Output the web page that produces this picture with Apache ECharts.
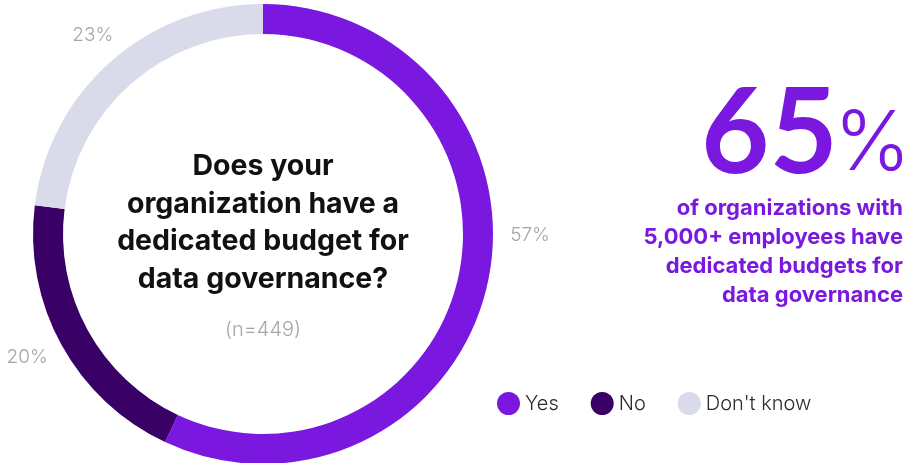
<!DOCTYPE html>
<html>
<head>
<meta charset="utf-8">
<script src="https://cdn.jsdelivr.net/npm/echarts@6/dist/echarts.min.js"></script>
<style>
  html, body { margin: 0; padding: 0; background: #ffffff; }
  #chart { width: 916px; height: 463px; }
</style>
</head>
<body>
<div id="chart"></div>
<script>
// Survey answers (share of respondents, %)
const categories = ['Yes', 'No', "Don't know"];
const shares = [57, 20, 23];
const sliceColors = ['#7A18E0', '#390066', '#D9DAEA'];

// Centre question and callout text
const questionLines = ['Does your', 'organization have a', 'dedicated budget for', 'data governance?'];
const sampleNote = '(n=449)';
const highlightValue = '65';
const highlightLines = ['of organizations with', '5,000+ employees have', 'dedicated budgets for', 'data governance'];

// Small nudges for the percentage labels around the ring
const labelNudges = [{ dx: 8, dy: -51 }, { dx: 0, dy: 8 }, { dx: 14, dy: -19 }];

const chart = echarts.init(document.getElementById('chart'), null, { renderer: 'canvas' });

const font = 'Inter, Lato, sans-serif';
const accent = '#7A18E0';

const option = {
  backgroundColor: '#ffffff',
  animation: false,
  legend: {
    data: categories,
    left: 492,
    top: 387,
    icon: 'circle',
    itemWidth: 23,
    itemHeight: 23,
    itemGap: 32,
    textStyle: { fontFamily: font, fontSize: 20, color: '#2b2b2b', fontWeight: 300, padding: [0, 0, 0, 0] }
  },
  series: [{
    type: 'pie',
    center: [263, 234],
    radius: [200, 230],
    startAngle: 90,
    clockwise: true,
    avoidLabelOverlap: false,
    silent: true,
    label: {
      show: true,
      position: 'outside',
      formatter: '{c}%',
      fontFamily: font,
      fontSize: 19,
      fontWeight: 300,
      color: '#a6a6a6'
    },
    labelLine: { show: false, length: 10, length2: 0 },
    labelLayout: function (p) {
      const n = labelNudges[p.dataIndex];
      return { dx: n.dx, dy: n.dy };
    },
    data: categories.map((name, i) => ({
      name: name,
      value: shares[i],
      itemStyle: { color: sliceColors[i] }
    }))
  }],
  graphic: [
    {
      type: 'text',
      style: {
        x: 263,
        y: 148,
        text: questionLines.join('\n'),
        fontFamily: font,
        fontSize: 28.5,
        fontWeight: 'bold',
        lineHeight: 37.5,
        fill: '#111111',
        align: 'center',
        verticalAlign: 'top'
      }
    },
    {
      type: 'text',
      style: {
        x: 263,
        y: 330,
        text: sampleNote,
        fontFamily: font,
        fontSize: 20,
        fontWeight: 300,
        fill: '#a6a6a6',
        align: 'center',
        verticalAlign: 'middle'
      }
    },
    {
      // big headline figure
      type: 'text',
      style: {
        x: 838,
        y: 135,
        text: highlightValue,
        fontFamily: 'Lato, Inter, sans-serif',
        fontSize: 118,
        fontWeight: 'bold',
        fill: accent,
        align: 'right',
        verticalAlign: 'middle'
      }
    },
    {
      type: 'text',
      style: {
        x: 834,
        y: 145,
        text: '%',
        fontFamily: font,
        fontSize: 82,
        fontWeight: 300,
        fill: accent,
        align: 'left',
        verticalAlign: 'middle'
      }
    },
    {
      type: 'text',
      style: {
        x: 903,
        y: 193.5,
        text: highlightLines.join('\n'),
        fontFamily: font,
        fontSize: 22,
        fontWeight: 'bold',
        lineHeight: 29,
        fill: accent,
        align: 'right',
        verticalAlign: 'top'
      }
    }
  ]
};

chart.setOption(option);
</script>
</body>
</html>
